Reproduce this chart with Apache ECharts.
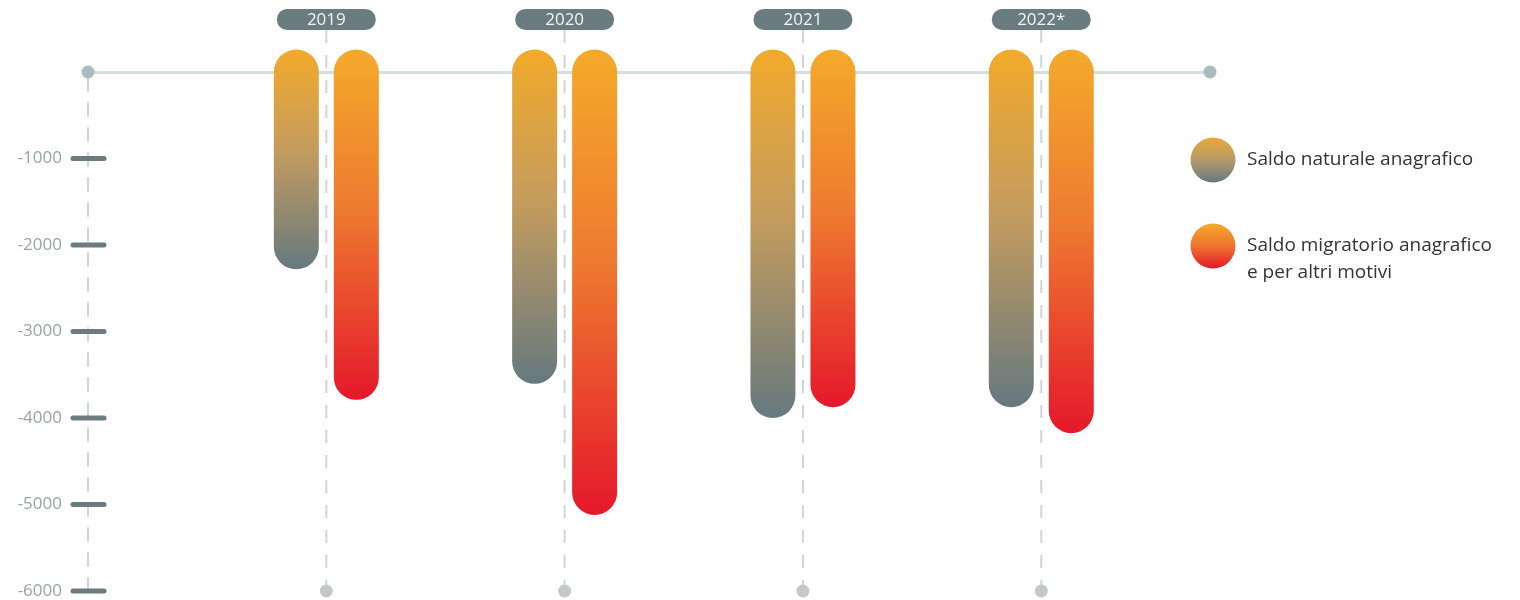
<!DOCTYPE html>
<html>
<head>
<meta charset="utf-8">
<script src="https://cdn.jsdelivr.net/npm/echarts@6/dist/echarts.min.js"></script>
<style>
html,body{margin:0;padding:0;background:#fff;}
#chart{width:1520px;height:600px;}
</style>
</head>
<body>
<div id="chart"></div>
<script>
// ---- data ----
const years = ['2019', '2020', '2021', '2022*'];
const saldoNaturale = [-2020, -3345, -3740, -3615];
const saldoMigratorio = [-3530, -4860, -3615, -3915];
const yTicks = [-1000, -2000, -3000, -4000, -5000, -6000];
const seriesNames = ['Saldo naturale anagrafico', 'Saldo migratorio anagrafico\ne per altri motivi'];

const chart = echarts.init(document.getElementById('chart'), null, {renderer: 'canvas'});
const FONT = '"Open Sans", "Noto Sans", sans-serif';
const X_MAX = 4.708;
const BAR_W = 45, R = 22.5, OFFSET = 30;

const natStops = [
  {offset: 0, color: '#F2AA2A'},
  {offset: 0.45, color: '#C59C5E'},
  {offset: 1, color: '#66797F'}
];
const migStops = [
  {offset: 0, color: '#F4AA2A'},
  {offset: 0.45, color: '#EE7B30'},
  {offset: 1, color: '#E5182B'}
];

function barRenderer(stops, offset) {
  return function (params, api) {
    const x = api.value(0), v = api.value(1);
    const p0 = api.coord([x, 0]);
    const p1 = api.coord([x, v]);
    const cx = p0[0] + offset;
    return {
      type: 'rect',
      shape: {x: cx - BAR_W / 2, y: p0[1] - R, width: BAR_W, height: (p1[1] - p0[1]) + 2 * R, r: R},
      style: {fill: new echarts.graphic.LinearGradient(0, 0, 0, 1, stops)}
    };
  };
}

const catData = years.map((y, i) => [i + 1, 0, y]);
const natData = saldoNaturale.map((v, i) => [i + 1, v]);
const migData = saldoMigratorio.map((v, i) => [i + 1, v]);
const tickData = yTicks.map(v => [0, v]);

const option = {
  animation: false,
  backgroundColor: '#ffffff',
  grid: {left: 88, right: 310, top: 72, bottom: 9, containLabel: false},
  xAxis: {
    type: 'value', min: 0, max: X_MAX, position: 'top',
    axisLine: {show: true, onZero: false, lineStyle: {color: '#D3DFE0', width: 3}},
    axisTick: {show: false}, axisLabel: {show: false}, splitLine: {show: false}
  },
  yAxis: {
    type: 'value', min: -6000, max: 0, interval: 1000,
    axisLine: {show: true, onZero: false, lineStyle: {color: '#CDD6DA', width: 2, type: [13, 12]}},
    axisTick: {show: false},
    splitLine: {show: false},
    axisLabel: {
      margin: 26, color: '#98A3A7', fontSize: 17, fontFamily: FONT, padding: [3, 0, 0, 0],
      formatter: v => (v === 0 ? '' : String(v))
    }
  },
  series: [
    {
      type: 'custom', name: 'decor', silent: true, z: 1,
      data: catData,
      renderItem: function (params, api) {
        const x = api.value(0);
        const top = api.coord([x, 0]);
        const bot = api.coord([x, -6000]);
        const cx = top[0];
        const label = years[params.dataIndex];
        return {
          type: 'group',
          children: [
            {type: 'line', shape: {x1: cx, y1: top[1] - 42, x2: cx, y2: bot[1]},
              style: {stroke: '#CDD6DA', lineWidth: 2, lineDash: [13, 12]}},
            {type: 'circle', shape: {cx: cx, cy: bot[1], r: 6.5}, style: {fill: '#C3C8CA'}},
            {type: 'rect', shape: {x: cx - 49.5, y: top[1] - 63, width: 99, height: 21, r: 10.5},
              style: {fill: '#6B7C80'}},
            {type: 'text', x: cx, y: top[1] - 52,
              style: {text: label, fill: '#F2F5F5', fontSize: 17, fontWeight: 'normal', fontFamily: FONT,
                align: 'center', verticalAlign: 'middle'}}
          ]
        };
      }
    },
    {
      type: 'custom', name: 'ends', silent: true, z: 2,
      data: [[0, 0], [X_MAX, 0]],
      renderItem: function (params, api) {
        const p = api.coord([api.value(0), api.value(1)]);
        return {type: 'circle', shape: {cx: p[0], cy: p[1], r: 6.5}, style: {fill: '#AABCC0'}};
      }
    },
    {
      type: 'custom', name: 'ticks', silent: true, z: 2,
      data: tickData,
      renderItem: function (params, api) {
        const p = api.coord([api.value(0), api.value(1)]);
        return {type: 'line', shape: {x1: p[0] - 15, y1: p[1], x2: p[0] + 16, y2: p[1]},
          style: {stroke: '#6B7B80', lineWidth: 5, lineCap: 'round'}};
      }
    },
    {
      type: 'custom', name: seriesNames[0], z: 5,
      data: natData,
      renderItem: barRenderer(natStops, -OFFSET)
    },
    {
      type: 'custom', name: seriesNames[1], z: 5,
      data: migData,
      renderItem: barRenderer(migStops, OFFSET)
    }
  ],
  graphic: [
    {type: 'circle', shape: {cx: 1213, cy: 160, r: 22.5},
      style: {fill: new echarts.graphic.LinearGradient(0, 0, 0, 1, [{offset: 0, color: '#E9A936'}, {offset: 0.5, color: '#B59A6C'}, {offset: 1, color: '#66797F'}])}},
    {type: 'text', x: 1247, y: 160,
      style: {text: seriesNames[0], fill: '#333333', fontSize: 19, fontFamily: FONT, verticalAlign: 'middle'}},
    {type: 'circle', shape: {cx: 1213, cy: 246, r: 22.5},
      style: {fill: new echarts.graphic.LinearGradient(0, 0, 0, 1, [{offset: 0, color: '#F4AA2A'}, {offset: 0.5, color: '#EE7430'}, {offset: 1, color: '#E5182B'}])}},
    {type: 'text', x: 1247, y: 232,
      style: {text: seriesNames[1], fill: '#333333', fontSize: 19, lineHeight: 27, fontFamily: FONT, verticalAlign: 'top'}}
  ]
};
chart.setOption(option);
</script>
</body>
</html>
